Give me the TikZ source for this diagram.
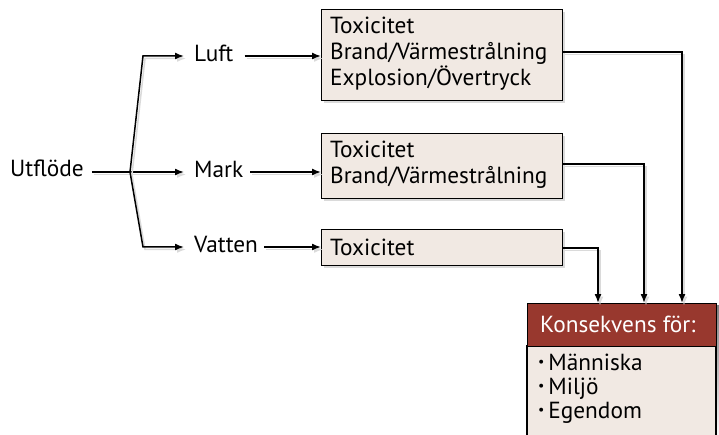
\documentclass[tikz,border=0pt]{standalone}
\usepackage{fontspec}
\setmainfont{PT Sans}
\usetikzlibrary{arrows.meta,shadows}
\definecolor{boxfill}{RGB}{241,233,227}
\definecolor{headred}{RGB}{152,56,46}
\definecolor{shade}{RGB}{218,218,218}
\tikzset{
  x=1pt, y=-1pt,
  txt/.style={font=\fontsize{23.3}{26}\selectfont, inner sep=0pt, align=left},
  effbox/.style={draw=black, line width=1.3pt, fill=boxfill, anchor=north west,
    inner sep=0pt,
    drop shadow={shadow xshift=2.5pt, shadow yshift=-2.5pt, fill=shade, opacity=1}},
  conn/.style={line width=1.5pt, preaction={draw=shade, line width=1.5pt, transform canvas={shift={(2pt,-2.5pt)}}}},
  arr/.style={conn, -{Latex[length=9pt,width=7pt]}},
}
\newcommand{\itembullet}{\raisebox{3.5pt}{\scalebox{0.6}{•}}\,}
\begin{document}
\begin{tikzpicture}
\useasboundingbox (0,0) rectangle (719,435);

% source and pathways
\node[txt, anchor=base west] (src) at (10,177) {Utflöde};
\node[txt, anchor=base west] (luft) at (194,62) {Luft};
\node[txt, anchor=base west] (mark) at (194,178) {Mark};
\node[txt, anchor=base west] (vatten) at (194,253) {Vatten};

\coordinate (split) at (130,172);
\coordinate (upc) at (143,56);
\coordinate (loc) at (143,247);

% effect boxes
\node[effbox, minimum width=241pt, minimum height=91pt] (eff1) at (321,9) {};
\node[effbox, minimum width=241pt, minimum height=65pt] (eff2) at (321,133) {};
\node[effbox, minimum width=241pt, minimum height=36pt] (eff3) at (321,229) {};
\node[txt, anchor=base west] (eff1t) at (330,86)
  {Toxicitet\\Brand/Värmestrålning\\Explosion/Övertryck};
\node[txt, anchor=base west] (eff2t) at (330,184)
  {Toxicitet\\Brand/Värmestrålning};
\node[txt, anchor=base west] (eff3t) at (330,255) {Toxicitet};

% consequence box
\fill[shade] (529.5,305.5) rectangle (719,440);
\draw[line width=1.3pt, fill=boxfill] (527,346) rectangle (716,440);
\node[draw=black, line width=1.3pt, fill=headred, anchor=north west,
  minimum width=189pt, minimum height=43pt, inner sep=0pt] (cons) at (527,303) {};
\node[txt, text=white, anchor=base west] (consT) at (540,332) {Konsekvens för:};
\node[txt, anchor=base west, font=\fontsize{23.3}{24}\selectfont] (items) at (538,418)
  {\itembullet Människa\\\itembullet Miljö\\\itembullet Egendom};

% branching arrows
\draw[arr] (src.east |- split) ++(8,0) -- (split) -- ([xshift=-10pt]mark.west |- split);
\draw[arr] (split) -- (upc) -- ([xshift=-10pt]luft.west |- upc);
\draw[arr] (split) -- (loc) -- ([xshift=-10pt]vatten.west |- loc);

% pathway to effect
\draw[arr] ([xshift=11pt]luft.east |- upc) -- (eff1.west |- upc);
\draw[arr] ([xshift=7pt]mark.east |- split) -- (eff2.west |- split);
\draw[arr] ([xshift=6pt]vatten.east |- loc) -- (eff3.west |- loc);

% effects to consequences
\draw[arr] (eff1.east |- 0,52) -| (cons.north -| 682,0);
\draw[arr] (eff2.east |- 0,164) -| (cons.north -| 644,0);
\draw[arr] (eff3.east |- 0,248) -| (cons.north -| 598,0);
\end{tikzpicture}
\end{document}
